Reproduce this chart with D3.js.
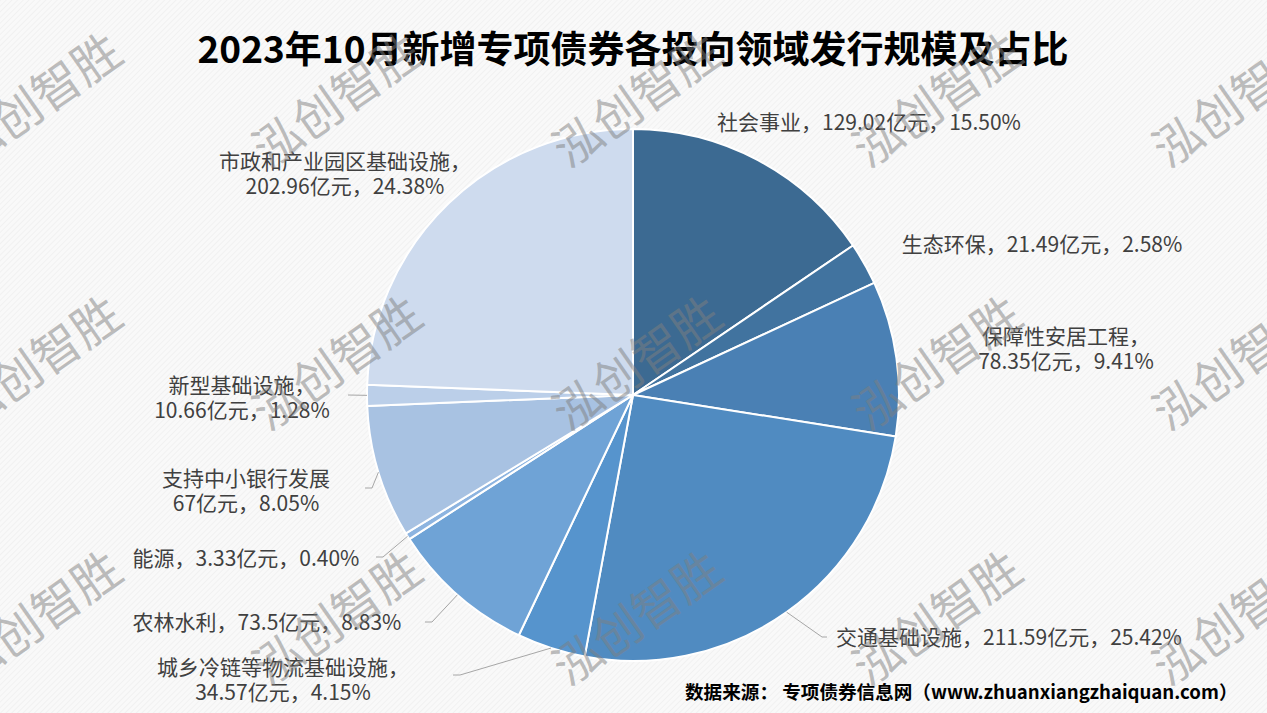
<!DOCTYPE html>
<html>
<head>
<meta charset="utf-8">
<script src="https://cdn.jsdelivr.net/npm/d3@7"></script>
<style>
  html, body { margin: 0; padding: 0; background: #f8f8f8; }
  svg { display: block; }
</style>
</head>
<body>
<div class="canvas"></div>
<script>
// data
const categories = ['社会事业', '生态环保', '保障性安居工程', '交通基础设施', '城乡冷链等物流基础设施',
    '农林水利', '能源', '支持中小银行发展', '新型基础设施', '市政和产业园区基础设施'];
const amounts = [129.02, 21.49, 78.35, 211.59, 34.57, 73.5, 3.33, 67, 10.66, 202.96];
const sliceColors = ['#3c6a92', '#41739f', '#4a80b4', '#508bc1', '#5694cd',
    '#6fa3d6', '#8db4e0', '#a8c2e2', '#bbcfe9', '#cedbee'];

const titleText = '2023年10月新增专项债券各投向领域发行规模及占比';
const sourceText = '数据来源：  专项债券信息网（www.zhuanxiangzhaiquan.com）';
const watermarkText = '泓创智胜';

// label placement (centre x, centre y of block, two lines?, comma after name?)
const labelLayout = [
    {x: 869, y: 121, two: false},
    {x: 1042, y: 243, two: false},
    {x: 1066, y: 347, two: true, comma: true},
    {x: 1009, y: 636, two: false},
    {x: 283, y: 678, two: true, comma: true},
    {x: 267, y: 621, two: false},
    {x: 246, y: 557, two: false},
    {x: 246, y: 489, two: true, comma: false},
    {x: 242, y: 396, two: true, comma: true},
    {x: 345, y: 172, two: true, comma: true}
];
// leader line elbows: [elbowX, elbowY, endX]
const leaders = {3: [822, 637, 827], 4: [460, 675, 453], 5: [432, 622, 425],
    6: [383, 557, 376], 7: [372, 488, 365], 8: [348, 395, 348]};

const width = 1267, height = 713;
const cx = 633, cy = 395, radius = 266;

const svg = d3.select('.canvas')
    .append('svg')
        .attr('width', width)
        .attr('height', height);

// faint diagonal hatch background
const defs = svg.append('defs');
const pat = defs.append('pattern')
    .attr('id', 'hatch')
    .attr('width', 4)
    .attr('height', 4)
    .attr('patternUnits', 'userSpaceOnUse')
    .attr('patternTransform', 'rotate(45)');
pat.append('rect').attr('width', 4).attr('height', 4).attr('fill', '#f9f9f9');
pat.append('line').attr('x1', 0).attr('y1', 0).attr('x2', 0).attr('y2', 4)
    .attr('stroke', '#efefef').attr('stroke-width', 1.5);

svg.append('rect')
    .attr('width', width)
    .attr('height', height)
    .attr('fill', 'url(#hatch)');

const font = "'Noto Sans CJK SC', 'Noto Sans', sans-serif";

const data = categories.map((name, i) => ({name, value: amounts[i], color: sliceColors[i]}));
const total = d3.sum(amounts);
const pct = d3.format('.2%');

const pie = d3.pie()
    .sort(null)
    .value(d => d.value);

const arc = d3.arc()
    .innerRadius(0)
    .outerRadius(radius);

const arcs = pie(data);

const graph = svg.append('g')
    .attr('transform', `translate(${cx},${cy})`);

graph.selectAll('path')
    .data(arcs)
    .enter()
    .append('path')
        .attr('d', arc)
        .attr('fill', d => d.data.color)
        .attr('stroke', '#ffffff')
        .attr('stroke-width', 2)
        .attr('stroke-linejoin', 'round');

// leader lines
arcs.forEach((a, i) => {
    if (!leaders[i]) return;
    const mid = (a.startAngle + a.endAngle) / 2;
    const sx = cx + radius * Math.sin(mid);
    const sy = cy - radius * Math.cos(mid);
    const [ex, ey, endX] = leaders[i];
    svg.append('polyline')
        .attr('points', `${sx},${sy} ${ex},${ey} ${endX},${ey}`)
        .attr('fill', 'none')
        .attr('stroke', '#a6a6a6')
        .attr('stroke-width', 1);
});

// data labels, one text per line
const labels = svg.append('g')
    .attr('font-family', font)
    .attr('font-size', 21)
    .attr('fill', '#404040')
    .attr('text-anchor', 'middle');

arcs.forEach((a, i) => {
    const lay = labelLayout[i];
    const d = a.data;
    const tail = `${d.value}亿元，${pct(d.value / total)}`;
    const lines = lay.two
        ? [d.name + (lay.comma ? '，' : ''), tail]
        : [`${d.name}，${tail}`];
    const lh = 25;
    const y0 = lay.y - (lines.length - 1) * lh / 2;
    lines.forEach((ln, k) => {
        labels.append('text')
            .attr('x', lay.x)
            .attr('y', y0 + k * lh)
            .attr('dominant-baseline', 'central')
            .text(ln);
    });
});

// title
svg.append('text')
    .attr('x', 633)
    .attr('y', 47)
    .attr('text-anchor', 'middle')
    .attr('dominant-baseline', 'central')
    .attr('font-family', font)
    .attr('font-weight', 'bold')
    .attr('font-size', 37)
    .attr('fill', '#000000')
    .text(titleText);

// source note
svg.append('text')
    .attr('x', 685)
    .attr('y', 690)
    .attr('dominant-baseline', 'central')
    .attr('font-family', font)
    .attr('font-weight', 'bold')
    .attr('font-size', 18.6)
    .attr('fill', '#000000')
    .text(sourceText);

// watermark grid
const wmX = [35, 335, 635, 935, 1235];
const wmY = [97, 360, 615];
const wm = svg.append('g')
    .attr('font-family', font)
    .attr('font-size', 48)
    .attr('fill', '#7f7f7f')
    .attr('fill-opacity', 0.5)
    .attr('text-anchor', 'middle')
    .attr('pointer-events', 'none');
wmY.forEach(y => wmX.forEach(x => {
    wm.append('text')
        .attr('transform', `translate(${x},${y}) rotate(-35)`)
        .attr('dominant-baseline', 'central')
        .text(watermarkText);
}));
</script>
</body>
</html>
